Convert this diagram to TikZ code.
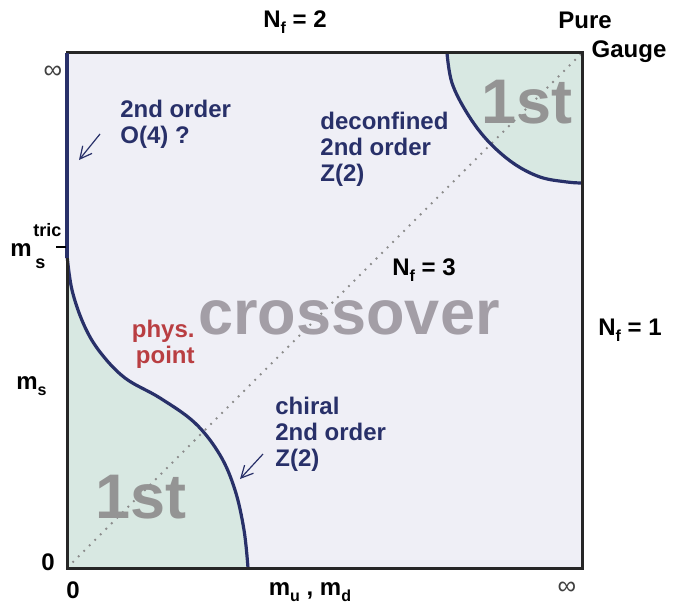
\documentclass[tikz,border=0pt]{standalone}
\usepackage{fontspec}
\setmainfont{Liberation Sans}
\usetikzlibrary{arrows.meta}

\definecolor{navy}{RGB}{40,48,105}
\definecolor{panel}{RGB}{239,239,246}
\definecolor{firstfill}{RGB}{216,232,226}
\definecolor{bigtxt}{RGB}{163,158,166}
\definecolor{physred}{RGB}{185,62,66}

\newcommand\lowsub[1]{\raisebox{-0.45ex}{\fontsize{8}{8}\selectfont #1}}

\begin{document}
\begin{tikzpicture}[x=0.5pt,y=-0.5pt,
    lbl/.style={font=\fontsize{12}{13}\selectfont\bfseries, inner sep=0pt},
    phase/.style={lbl, text=navy, align=left, anchor=west},
    huge/.style={font=\fontsize{31.5}{31.5}\selectfont\bfseries, text=bigtxt, inner sep=0pt},
    inf/.style={font=\fontsize{13}{13}\selectfont, text=black!75, inner sep=0pt},
    barb/.style={navy, semithick, -{Straight Barb[length=6pt,width=6pt]}}]
    \useasboundingbox (0,0) rectangle (684,610);

    % panel and first order regions
    \fill[panel] (67,53) rectangle (582,568);
    \fill[firstfill] (67,255) plot[smooth, tension=0.6] coordinates {(67,255) (72,290) (84,325) (100,352) (125,378) (160,398) (195,423) (220,455) (235,490) (244,530) (248,568)} -- (67,568) -- cycle;
    \fill[firstfill] (447,53) plot[smooth, tension=0.6] coordinates {(447,53) (452,83) (467,113) (487,140) (513,163) (540,177) (567,182) (582,183)} -- (582,53) -- cycle;

    % N_f = 3 line
    \coordinate (orig) at (67,568);
    \coordinate (pure) at (582,53);
    \draw[black!45, line width=0.9pt, dash pattern=on 0.9pt off 3pt] (orig) -- (pure);

    % big labels
    \node[huge] (cross) at (349,318) {crossover};
    \node[huge, text=black!42] (firstlow) at (141,497) {1st};
    \node[huge, text=black!42] (firsthigh) at (527,102) {1st};

    % phase boundaries
    \draw[navy, line width=1.6pt] plot[smooth, tension=0.6] coordinates {(67,255) (72,290) (84,325) (100,352) (125,378) (160,398) (195,423) (220,455) (235,490) (244,530) (248,568)};
    \draw[navy, line width=1.6pt] plot[smooth, tension=0.6] coordinates {(447,53) (452,83) (467,113) (487,140) (513,163) (540,177) (567,182) (582,183)};

    % frame
    \draw[black!85, line width=1.5pt] (orig) rectangle (pure);
    \draw[navy, line width=2.2pt] (67,53) -- (67,258);
    \draw[black, line width=1.4pt] (56,247) -- (66,247);

    % phase labels
    \node[phase] (otwo) at (120,124.5) {2nd order\\O(4) ?};
    \node[phase] (deconf) at (320,149.5) {deconfined\\2nd order\\Z(2)};
    \node[phase] (chiral) at (275,434.5) {chiral\\2nd order\\Z(2)};
    \node[lbl, text=physred, align=right, anchor=east] (phys) at (195,344) {phys.\\point};

    \coordinate (otwotail) at (100,134);
    \coordinate (otwotip) at (79,160);
    \draw[barb] (otwotail) -- (otwotip);
    \coordinate (chiraltail) at (263,454);
    \coordinate (chiraltip) at (240,479);
    \draw[barb] (chiraltail) -- (chiraltip);

    % flavour labels
    \node[lbl] (nftwo) at (295,22) {N\lowsub{f} = 2};
    \node[lbl] (nfthree) at (424,270) {N\lowsub{f} = 3};
    \node[lbl] (nfone) at (630,330) {N\lowsub{f} = 1};
    \node[lbl] (pureg) at (585,20) {Pure};
    \node[lbl] (gauge) at (629,52) {Gauge};

    % axes
    \node[inf] (yinf) at (53,72) {∞};
    \node[inf] (xinf) at (567,588) {∞};
    \node[lbl] (yzero) at (48,562) {0};
    \node[lbl] (xzero) at (73,590) {0};
    \node[lbl, anchor=west] (mstric) at (10,250) {m};
    \node[lbl, font=\fontsize{9}{9}\selectfont\bfseries, anchor=west] (tric) at (33,230) {tric};
    \node[lbl, font=\fontsize{9}{9}\selectfont\bfseries, anchor=west] (tricsub) at (35,264) {s};
    \node[lbl, anchor=west] (ms) at (16,386) {m\lowsub{s}};
    \node[lbl] (mumd) at (310,592) {m\lowsub{u} , m\lowsub{d}};
\end{tikzpicture}
\end{document}
